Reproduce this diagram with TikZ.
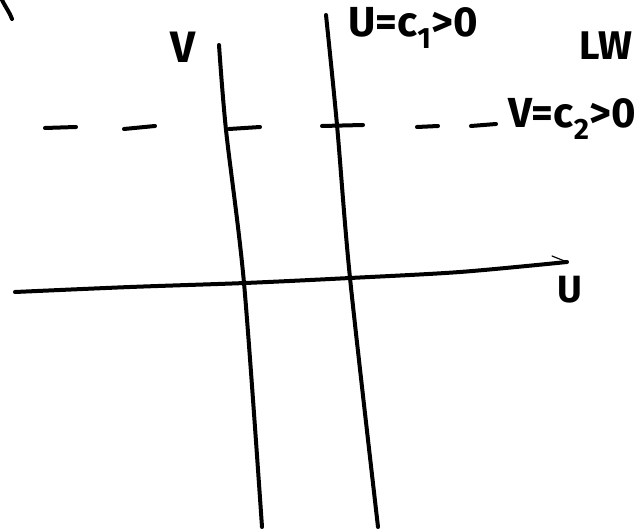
\documentclass[tikz,border=0pt]{standalone}
\usepackage{fontspec}
\setmainfont{Fira Sans}
\usetikzlibrary{arrows.meta}
\tikzset{
  stroke/.style={line width=4pt, line cap=round, line join=round, black},
  dashpiece/.style={line width=4pt, line cap=round, black},
  handlabel/.style={inner sep=0pt, anchor=center},
}
\begin{document}
\begin{tikzpicture}[x=1pt,y=-1pt]
\useasboundingbox (0,0) rectangle (644,529);
% cut-off stroke at top left
\draw[stroke] (2,0) .. controls (6,8) and (10,13) .. (12,19);
% vertical line 1 (V axis)
\draw[stroke] plot[smooth] coordinates {(219,45) (226,130) (244,283) (262,527)};
% vertical line 2 (U = c1)
\draw[stroke] plot[smooth] coordinates {(326,15) (337,125) (350,278) (378,527)};
% horizontal axis (U axis)
\draw[stroke] plot[smooth] coordinates {(15,292) (130,287) (245,283) (350,278) (460,272) (567,262)};
\draw[line width=1.2pt, line cap=round] (567,262) -- (552,256);
% dashed line V = c2
\draw[dashpiece] (45,128) -- (76,127);
\draw[dashpiece] (124,129) -- (155,126);
\draw[dashpiece] (229,129) -- (260,127);
\draw[dashpiece] (322,126) -- (363,125);
\draw[dashpiece] (417,127) -- (438,126);
\draw[dashpiece] (471,126) -- (496,124);
% labels
\node[handlabel, font=\fontsize{44}{44}\selectfont\bfseries] (lv) at (183,47) {V};
\node[handlabel, font=\fontsize{42}{42}\selectfont\bfseries] (lu1) at (413,28) {U=c\textsubscript{1}>0};
\node[handlabel, font=\fontsize{40}{40}\selectfont\bfseries] (llw) at (606,46) {LW};
\node[handlabel, font=\fontsize{42}{42}\selectfont\bfseries] (lv2) at (572,119) {V=c\textsubscript{2}>0};
\node[handlabel, font=\fontsize{38}{38}\selectfont\bfseries] (lu) at (570,290) {U};
\end{tikzpicture}
\end{document}
